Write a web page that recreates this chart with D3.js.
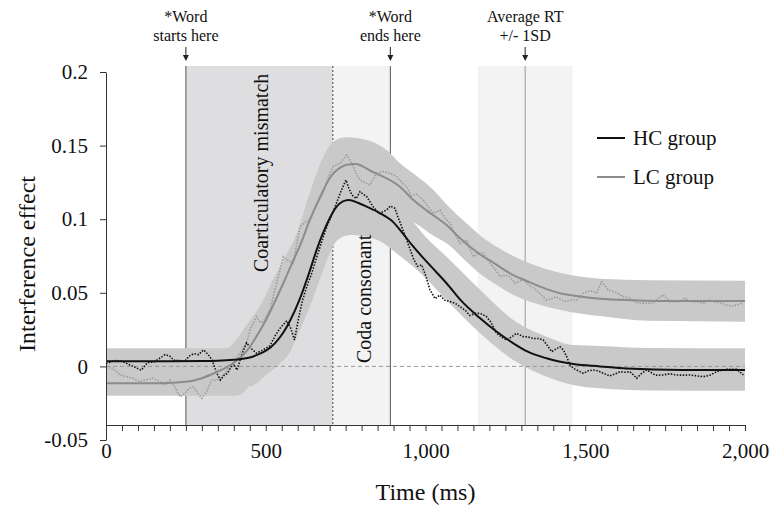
<!DOCTYPE html>
<html>
<head>
<meta charset="utf-8">
<script src="https://cdn.jsdelivr.net/npm/d3@7"></script>
<style>
  body { margin: 0; background: #fff; }
  svg text { font-family: "Liberation Serif", "Times New Roman", serif; fill: #111; }
</style>
</head>
<body>
<div id="chart"></div>
<script>
// event times (ms)
var wordStart = 250, coartEnd = 710, wordEnd = 890;
var rtMean = 1312, rtLo = 1164, rtHi = 1460;

var xTickLabels = [0, 500, 1000, 1500, 2000];
var yTickValues = [-0.05, 0, 0.05, 0.1, 0.15, 0.2];

// fitted curves [time, effect]
var hcFit = [[0,0.0035],[200,0.0035],[300,0.0036],[350,0.0038],[400,0.0045],[450,0.006],[480,0.0085],[503,0.011],
  [530,0.016],[555,0.023],[576,0.031],[607,0.046],[638,0.065],[659,0.079],[680,0.091],[701,0.101],[720,0.108],
  [740,0.112],[760,0.113],[790,0.111],[816,0.1085],[858,0.104],[899,0.098],[930,0.090],[962,0.0813],[1000,0.072],
  [1030,0.065],[1066,0.0565],[1110,0.045],[1171,0.0327],[1220,0.024],[1275,0.0157],[1320,0.010],[1379,0.0055],
  [1463,0.0016],[1546,0.0],[1630,-0.0015],[1800,-0.0025],[2000,-0.0025]];

var lcFit = [[0,-0.0115],[170,-0.0115],[250,-0.0105],[300,-0.008],[340,-0.0045],[378,-0.0005],[400,0.0025],[451,0.0134],
  [470,0.02],[503,0.0325],[535,0.047],[555,0.0565],[580,0.069],[607,0.082],[638,0.0995],[670,0.115],[690,0.124],
  [711,0.131],[733,0.135],[753,0.137],[780,0.1375],[836,0.132],[920,0.122],[962,0.113],[1003,0.106],[1066,0.096],
  [1108,0.087],[1171,0.076],[1212,0.0705],[1275,0.062],[1317,0.058],[1379,0.0525],[1421,0.0497],[1483,0.0475],
  [1546,0.046],[1650,0.045],[1800,0.0444],[2000,0.0444]];

// confidence bands [time, lower, upper]
var hcBand = [[0,-0.0055,0.0123],[383,-0.0055,0.0123],[420,-0.013,0.0125],[450,-0.0135,0.016],[471,-0.0115,0.021],
  [500,-0.006,0.03],[534,0.0,0.042],[576,0.010,0.062],[607,0.0247,0.078],[649,0.047,0.096],[680,0.0655,0.105],
  [701,0.077,0.11],[721,0.085,0.113],[764,0.0893,0.118],[816,0.088,0.117],[858,0.085,0.113],[920,0.075,0.105],
  [962,0.0677,0.098],[1000,0.060,0.088],[1066,0.045,0.0745],[1171,0.0225,0.052],[1275,0.0043,0.0315],
  [1379,-0.007,0.0202],[1463,-0.0126,0.0145],[1546,-0.0149,0.0139],[1700,-0.0163,0.0125],[2000,-0.0165,0.0123]];

var lcBand = [[0,-0.02,-0.003],[340,-0.02,-0.003],[383,-0.02,0.0123],[400,-0.02,0.016],[430,-0.018,0.025],
  [451,-0.012,0.0315],[482,-0.005,0.041],[503,0.0,0.0497],[520,0.004,0.058],[555,0.018,0.072],[600,0.04,0.092],
  [638,0.064,0.118],[680,0.085,0.1425],[711,0.095,0.1527],[753,0.104,0.1557],[816,0.108,0.1538],[878,0.104,0.147],
  [920,0.101,0.138],[962,0.098,0.131],[1024,0.089,0.12],[1066,0.0836,0.11],[1129,0.071,0.097],[1171,0.063,0.089],
  [1233,0.054,0.08],[1275,0.0485,0.075],[1379,0.0406,0.066],[1483,0.036,0.061],[1546,0.0342,0.0595],
  [1700,0.031,0.0585],[2000,0.0304,0.0582]];

// observed (raw) data
var hcRaw = [[0,0.002],[25,0.004],[50,0.0035],[75,0.001],[95,-0.001],[110,-0.0026],[130,0.0026],[150,0.003],
  [170,0.0058],[185,0.008],[200,0.007],[212,0.0042],[230,0.004],[247,0.0035],[260,0.007],[275,0.0087],[290,0.008],
  [305,0.0112],[320,0.008],[332,0.0043],[347,-0.0047],[358,-0.0092],[370,-0.006],[380,-0.0047],[398,0.002],
  [410,-0.0024],[425,0.008],[440,0.016],[455,0.012],[471,0.009],[490,0.011],[513,0.014],[530,0.021],[545,0.026],
  [566,0.031],[578,0.026],[590,0.018],[602,0.032],[614,0.044],[628,0.054],[645,0.064],[660,0.0745],[680,0.088],
  [695,0.097],[711,0.105],[733,0.1176],[751,0.1266],[760,0.121],[770,0.1164],[783,0.114],[795,0.1187],[805,0.117],
  [816,0.1153],[836,0.1085],[855,0.104],[878,0.1062],[890,0.109],[904,0.1074],[920,0.098],[941,0.086],[962,0.0734],
  [975,0.068],[988,0.069],[1000,0.062],[1014,0.052],[1030,0.046],[1045,0.0485],[1060,0.045],[1077,0.044],
  [1092,0.043],[1108,0.0406],[1125,0.038],[1139,0.0345],[1155,0.036],[1171,0.036],[1191,0.0338],[1205,0.03],
  [1222,0.0225],[1238,0.02],[1253,0.018],[1270,0.02],[1284,0.0225],[1306,0.0202],[1320,0.02],[1337,0.019],
  [1352,0.019],[1368,0.018],[1382,0.014],[1395,0.010],[1410,0.012],[1421,0.0134],[1432,0.011],[1442,0.0066],
  [1452,0.001],[1463,-0.0013],[1478,-0.003],[1494,-0.0047],[1510,-0.003],[1525,-0.0024],[1540,-0.003],
  [1560,-0.005],[1577,-0.0065],[1595,-0.005],[1609,-0.0036],[1625,-0.004],[1640,-0.0036],[1652,-0.006],
  [1661,-0.0081],[1675,-0.005],[1692,-0.0024],[1705,-0.004],[1720,-0.006],[1744,-0.0058],[1765,-0.005],
  [1786,-0.0058],[1805,-0.006],[1828,-0.0058],[1850,-0.0065],[1869,-0.007],[1890,-0.006],[1911,-0.0036],
  [1930,-0.0025],[1942,-0.002],[1960,-0.002],[1974,-0.002],[1985,-0.004],[1995,-0.0058]];

var lcRaw = [[0,-0.001],[13,-0.0002],[30,-0.003],[44,-0.0058],[65,-0.007],[85,-0.0081],[106,-0.0104],[125,-0.009],
  [148,-0.0081],[165,-0.01],[185,-0.0126],[200,-0.0092],[215,-0.014],[232,-0.0206],[247,-0.0183],[260,-0.015],
  [273,-0.0138],[287,-0.018],[300,-0.0217],[315,-0.0172],[331,-0.0092],[345,-0.0095],[357,-0.0081],[370,-0.005],
  [383,-0.0013],[400,0.003],[419,0.0089],[440,0.016],[451,0.0247],[471,0.0338],[482,0.030],[492,0.0304],
  [513,0.0383],[534,0.0565],[555,0.0745],[570,0.072],[586,0.070],[607,0.095],[625,0.098],[638,0.0995],[660,0.11],
  [680,0.1176],[695,0.128],[711,0.1357],[733,0.138],[753,0.1436],[764,0.14],[774,0.1357],[785,0.13],[795,0.1266],
  [810,0.125],[826,0.1232],[847,0.1312],[868,0.1323],[889,0.1312],[910,0.1289],[930,0.124],[941,0.122],[955,0.116],
  [972,0.117],[993,0.113],[1010,0.108],[1024,0.104],[1045,0.1062],[1060,0.101],[1077,0.0972],[1092,0.09],
  [1108,0.0836],[1129,0.0859],[1140,0.079],[1150,0.0745],[1165,0.077],[1181,0.0768],[1202,0.070],[1218,0.066],
  [1233,0.061],[1250,0.062],[1264,0.061],[1280,0.0565],[1295,0.058],[1306,0.0587],[1325,0.055],[1347,0.0519],
  [1365,0.048],[1379,0.0451],[1395,0.046],[1410,0.0474],[1426,0.045],[1442,0.044],[1452,0.0451],[1473,0.0451],
  [1494,0.0497],[1515,0.0514],[1536,0.050],[1551,0.0575],[1572,0.0519],[1598,0.050],[1619,0.0474],[1640,0.0463],
  [1661,0.0433],[1677,0.043],[1692,0.0429],[1713,0.0429],[1734,0.0474],[1744,0.0485],[1765,0.044],[1780,0.044],
  [1797,0.044],[1812,0.0463],[1830,0.044],[1849,0.044],[1869,0.0429],[1890,0.0451],[1905,0.044],[1921,0.0433],
  [1942,0.0417],[1958,0.041],[1974,0.0417],[1990,0.0429]];

var width = 773, height = 508;
var xAxisY = 425, shadeTop = 66;

var svg = d3.select("#chart").append("svg")
    .attr("width", width)
    .attr("height", height);

var x = d3.scaleLinear().domain([0, 2000]).range([106, 745]);
var y = d3.scaleLinear().domain([-0.05, 0.2]).range([440, 72]);

// shaded regions
function shade(t0, t1, fill) {
  svg.append("rect")
    .attr("x", x(t0)).attr("y", shadeTop)
    .attr("width", x(t1) - x(t0)).attr("height", xAxisY - shadeTop)
    .attr("fill", fill);
}
shade(wordStart, coartEnd, "#dedee0");
shade(coartEnd, wordEnd, "#f3f3f3");
shade(rtLo, rtHi, "#f3f3f3");

function vline(t, color, dash) {
  svg.append("line")
    .attr("x1", x(t)).attr("x2", x(t))
    .attr("y1", shadeTop).attr("y2", xAxisY)
    .attr("stroke", color).attr("stroke-width", 1)
    .attr("stroke-dasharray", dash || null);
}
vline(wordStart, "#555");
vline(coartEnd, "#444", "2,2");
vline(wordEnd, "#555");
vline(rtMean, "#999");

// bands
var band = d3.area()
    .x(function (d) { return x(d[0]); })
    .y0(function (d) { return y(d[1]); })
    .y1(function (d) { return y(d[2]); })
    .curve(d3.curveMonotoneX);

svg.append("path").datum(hcBand).attr("d", band).attr("fill", "#c9c9c9");
svg.append("path").datum(lcBand).attr("d", band).attr("fill", "#c9c9c9");

// zero line
svg.append("line")
  .attr("x1", x(0)).attr("x2", x(2000))
  .attr("y1", y(0)).attr("y2", y(0))
  .attr("stroke", "#999").attr("stroke-width", 1)
  .attr("stroke-dasharray", "4,3");

var line = d3.line()
    .x(function (d) { return x(d[0]); })
    .y(function (d) { return y(d[1]); });

svg.append("path").datum(lcRaw).attr("d", line)
  .attr("fill", "none").attr("stroke", "#9a9a9a")
  .attr("stroke-width", 1.6).attr("stroke-dasharray", "1.5,1.5");
svg.append("path").datum(hcRaw).attr("d", line)
  .attr("fill", "none").attr("stroke", "#111")
  .attr("stroke-width", 1.6).attr("stroke-dasharray", "1.5,1.5");

var smooth = d3.line()
    .x(function (d) { return x(d[0]); })
    .y(function (d) { return y(d[1]); })
    .curve(d3.curveMonotoneX);

svg.append("path").datum(lcFit).attr("d", smooth)
  .attr("fill", "none").attr("stroke", "#8c8c8c").attr("stroke-width", 2);
svg.append("path").datum(hcFit).attr("d", smooth)
  .attr("fill", "none").attr("stroke", "#111").attr("stroke-width", 2);

// axes
var xAxis = d3.axisBottom(x)
    .tickValues(d3.range(0, 2001, 50))
    .tickSize(6).tickSizeOuter(0)
    .tickFormat(function (d) { return xTickLabels.indexOf(d) >= 0 ? d3.format(",")(d) : ""; });

var gx = svg.append("g").attr("transform", "translate(0," + xAxisY + ")").call(xAxis);
gx.selectAll("text").attr("y", 33).attr("dy", null)
  .style("font-size", "21px").style("font-family", "Liberation Serif, serif");

var yAxis = d3.axisLeft(y)
    .tickValues(yTickValues)
    .tickSize(6).tickSizeOuter(0)
    .tickPadding(12)
    .tickFormat(function (d) { return d === 0 ? "0" : String(d); });

var gy = svg.append("g").attr("transform", "translate(" + x(0) + ",0)").call(yAxis);
gy.selectAll("text").style("font-size", "21px").style("font-family", "Liberation Serif, serif");

[gx, gy].forEach(function (g) {
  g.selectAll("path, line").attr("stroke", "#333");
});

// axis titles
svg.append("text")
  .attr("x", (x(0) + x(2000)) / 2).attr("y", 500)
  .attr("text-anchor", "middle").style("font-size", "24px")
  .text("Time (ms)");

svg.append("text")
  .attr("transform", "translate(35," + 264 + ") rotate(-90)")
  .attr("text-anchor", "middle").style("font-size", "24px")
  .text("Interference effect");

// region labels
svg.append("text")
  .attr("transform", "translate(268," + 272 + ") rotate(-90)")
  .style("font-size", "20px")
  .text("Coarticulatory mismatch");

svg.append("text")
  .attr("transform", "translate(371," + 363 + ") rotate(-90)")
  .style("font-size", "20px")
  .text("Coda consonant");

// annotations with arrows
var notes = [
  { t: wordStart, lines: ["*Word", "starts here"] },
  { t: wordEnd, lines: ["*Word", "ends here"] },
  { t: rtMean, lines: ["Average RT", "+/- 1SD"] }
];
notes.forEach(function (n) {
  var cx = x(n.t);
  n.lines.forEach(function (s, i) {
    svg.append("text")
      .attr("x", cx).attr("y", 22 + i * 19)
      .attr("text-anchor", "middle").style("font-size", "16px")
      .text(s);
  });
  svg.append("line")
    .attr("x1", cx).attr("x2", cx).attr("y1", 47).attr("y2", 56)
    .attr("stroke", "#222").attr("stroke-width", 1);
  svg.append("path")
    .attr("d", "M" + (cx - 3) + ",55L" + (cx + 3) + ",55L" + cx + ",61Z")
    .attr("fill", "#222");
});

// legend
var legend = [
  { name: "HC group", color: "#111", y: 138 },
  { name: "LC group", color: "#8c8c8c", y: 177 }
];
legend.forEach(function (l) {
  svg.append("line")
    .attr("x1", 597).attr("x2", 625).attr("y1", l.y).attr("y2", l.y)
    .attr("stroke", l.color).attr("stroke-width", 2);
  svg.append("text")
    .attr("x", 633).attr("y", l.y + 7)
    .style("font-size", "21px")
    .text(l.name);
});
</script>
</body>
</html>
